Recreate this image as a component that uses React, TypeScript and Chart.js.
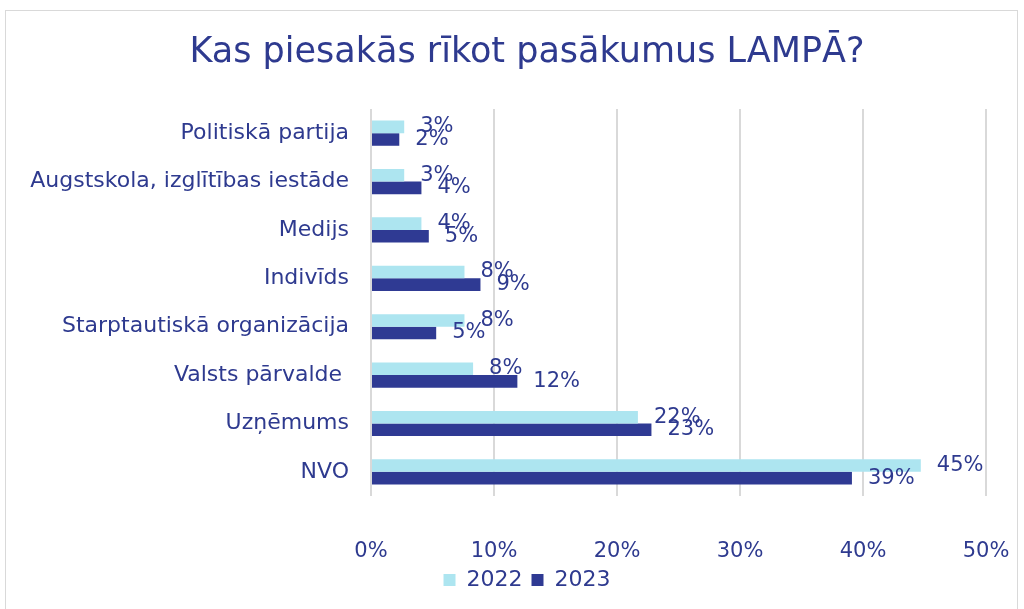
import React, { useEffect, useRef } from "react";
import { Chart, registerables } from "chart.js";

Chart.register(...registerables);

const categories = [
  "Politiskā partija",
  "Augstskola, izglītības iestāde",
  "Medijs",
  "Indivīds",
  "Starptautiskā organizācija",
  "Valsts pārvalde ",
  "Uzņēmums",
  "NVO",
];
const values2022 = [2.7, 2.7, 4.1, 7.6, 7.6, 8.3, 21.7, 44.7];
const values2023 = [2.3, 4.1, 4.7, 8.9, 5.3, 11.9, 22.8, 39.1];
const xTicks = [0, 10, 20, 30, 40, 50];

const TEXT = "#2e3a8f";
const C2022 = "#ade5f0";
const C2023 = "#2f3a93";
const FONT = "'DejaVu Sans'";
const PAD_LEFT = 68;

const labelPlugin = {
  id: "barLabels",
  afterLayout(chart: any) {
    // let the category labels extend left of the padded area without clipping
    const y = chart.scales.y;
    if (y) y.left = 0;
  },
  afterDatasetsDraw(chart: any) {
    const ctx = chart.ctx;
    ctx.save();
    ctx.fillStyle = TEXT;
    ctx.font = `21px ${FONT}`;
    ctx.textAlign = "left";
    ctx.textBaseline = "middle";
    chart.data.datasets.forEach((ds: any, i: number) => {
      const meta = chart.getDatasetMeta(i);
      meta.data.forEach((bar: any, j: number) => {
        ctx.fillText(Math.round(ds.data[j]) + "%", bar.x + 16, bar.y);
      });
    });
    ctx.restore();
  },
};

export default function App() {
  const ref = useRef<HTMLCanvasElement>(null);
  useEffect(() => {
    document.body.style.margin = "0";
    const chart = new Chart(ref.current!, {
      type: "bar",
      data: {
        labels: categories,
        datasets: [
          { label: "2022", data: values2022, backgroundColor: C2022, barPercentage: 1, categoryPercentage: 0.52 },
          { label: "2023", data: values2023, backgroundColor: C2023, barPercentage: 1, categoryPercentage: 0.52 },
        ],
      },
      options: {
        indexAxis: "y",
        animation: false,
        responsive: false,
        layout: { padding: { left: PAD_LEFT, right: 38, top: 0, bottom: 8 } },
        plugins: {
          title: {
            display: true,
            text: "Kas piesakās rīkot pasākumus LAMPĀ?",
            color: TEXT,
            font: { family: FONT, size: 35, weight: "normal" },
            padding: { top: 32, bottom: 35 },
          },
          legend: {
            position: "bottom",
            labels: {
              color: TEXT,
              font: { family: FONT, size: 22 },
              boxWidth: 12,
              boxHeight: 12,
              padding: 9,
            },
          },
          tooltip: { enabled: false },
        },
        scales: {
          x: {
            min: 0,
            max: 50,
            afterBuildTicks: (s: any) => {
              s.ticks = xTicks.map((v) => ({ value: v }));
            },
            ticks: {
              color: TEXT,
              font: { family: FONT, size: 21, lineHeight: 0.76 },
              padding: 0,
              callback: (v: any) => v + "%",
            },
            grid: { color: "#d9d9d9", lineWidth: 2, drawTicks: true, tickLength: 48, tickColor: "rgba(0,0,0,0)" },
            border: { display: false },
          },
          y: {
            afterFit: (s: any) => {
              s.width = 371 - PAD_LEFT;
            },
            ticks: {
              color: TEXT,
              font: { family: FONT, size: 22 },
              padding: 22,
            },
            grid: { display: false, drawTicks: false },
            border: { display: false },
          },
        },
      },
      plugins: [labelPlugin],
    });
    return () => chart.destroy();
  }, []);
  return (
    <div style={{ position: "relative", width: 1024, height: 609, background: "#fff" }}>
      <div
        style={{
          position: "absolute",
          left: 5,
          top: 10,
          width: 1013,
          height: 605,
          border: "1px solid #d9d9d9",
          boxSizing: "border-box",
        }}
      />
      <canvas ref={ref} width={1024} height={609} style={{ position: "absolute", left: 0, top: 0 }} />
    </div>
  );
}
